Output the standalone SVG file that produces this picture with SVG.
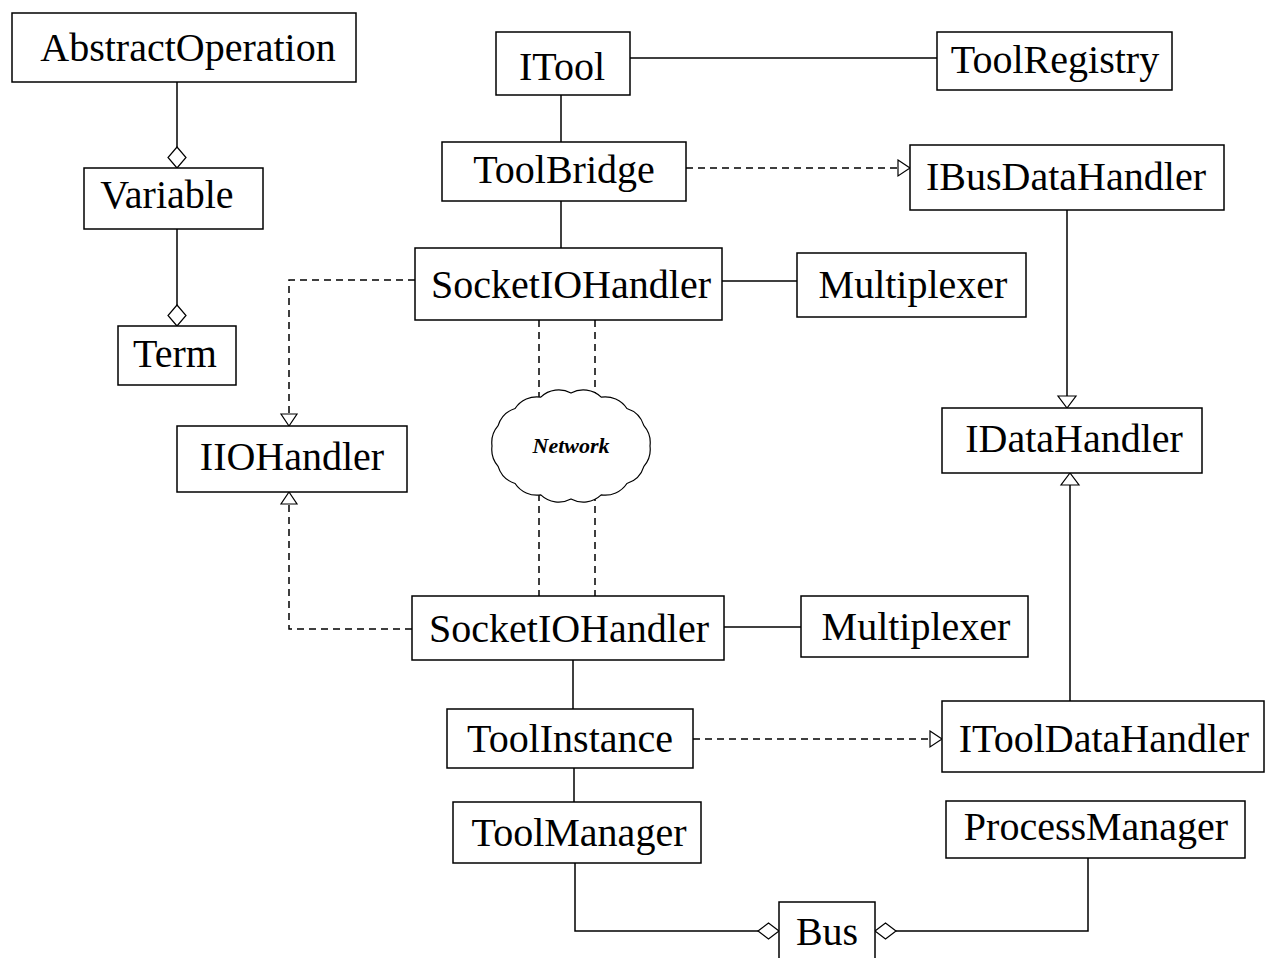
<svg xmlns="http://www.w3.org/2000/svg" width="1266" height="958" viewBox="0 0 1266 958">
<style>
.box{fill:#fff;stroke:#000;stroke-width:1.5}
.lbl{font-family:"Liberation Serif","Times New Roman",serif;font-size:40px;fill:#000;text-anchor:middle}
.ln{fill:none;stroke:#000;stroke-width:1.5}
.dash{fill:none;stroke:#000;stroke-width:1.5;stroke-dasharray:7 5}
.tri{fill:#fff;stroke:#000;stroke-width:1.2}
</style>
<rect width="1266" height="958" fill="#fff"/>
<g id="connectors">
  <line class="ln" x1="177" y1="82" x2="177" y2="147"/>
  <polygon class="tri" points="177,147 186,157.5 177,168 168,157.5"/>
  <line class="ln" x1="177" y1="229" x2="177" y2="305"/>
  <polygon class="tri" points="177,305 186,315.5 177,326 168,315.5"/>
  <line class="ln" x1="630" y1="58" x2="937" y2="58"/>
  <line class="ln" x1="561" y1="95" x2="561" y2="142"/>
  <line class="ln" x1="561" y1="201" x2="561" y2="248"/>
  <line class="dash" x1="686" y1="168" x2="898" y2="168"/>
  <polygon class="tri" points="898,160 910,168 898,176"/>
  <line class="ln" x1="722" y1="281" x2="797" y2="281"/>
  <polyline class="dash" points="415,280 289,280 289,414"/>
  <polygon class="tri" points="281,414 297,414 289,426"/>
  <polyline class="dash" points="412,629 289,629 289,504"/>
  <polygon class="tri" points="281,504 297,504 289,492"/>
  <line class="ln" x1="1067" y1="210" x2="1067" y2="396"/>
  <polygon class="tri" points="1058,396 1076,396 1067,408"/>
  <line class="ln" x1="1070" y1="701" x2="1070" y2="485"/>
  <polygon class="tri" points="1061,485 1079,485 1070,473"/>
  <line class="dash" x1="539" y1="320" x2="539" y2="398"/>
  <line class="dash" x1="595" y1="320" x2="595" y2="398"/>
  <line class="dash" x1="539" y1="494" x2="539" y2="596"/>
  <line class="dash" x1="595" y1="494" x2="595" y2="596"/>
  <line class="ln" x1="724" y1="627" x2="801" y2="627"/>
  <line class="ln" x1="573" y1="660" x2="573" y2="709"/>
  <line class="dash" x1="693" y1="739" x2="930" y2="739"/>
  <polygon class="tri" points="930,731 942,739 930,747"/>
  <line class="ln" x1="574" y1="768" x2="574" y2="802"/>
  <polyline class="ln" points="575,863 575,931 758,931"/>
  <polygon class="tri" points="758,931 768.5,923 779,931 768.5,939"/>
  <polyline class="ln" points="1088,858 1088,931 896,931"/>
  <polygon class="tri" points="875,931 885.5,923 896,931 885.5,939"/>
</g>
<g id="AbstractOperation"><rect class="box" x="12" y="13" width="344" height="69"/><text class="lbl" x="188" y="61">AbstractOperation</text></g>
<g id="Variable"><rect class="box" x="84" y="168" width="179" height="61"/><text class="lbl" x="167" y="208">Variable</text></g>
<g id="Term"><rect class="box" x="118" y="326" width="118" height="59"/><text class="lbl" x="175" y="367">Term</text></g>
<g id="ITool"><rect class="box" x="496" y="32" width="134" height="63"/><text class="lbl" x="562" y="80">ITool</text></g>
<g id="ToolRegistry"><rect class="box" x="937" y="32" width="235" height="58"/><text class="lbl" x="1055" y="73">ToolRegistry</text></g>
<g id="ToolBridge"><rect class="box" x="442" y="142" width="244" height="59"/><text class="lbl" x="564" y="183">ToolBridge</text></g>
<g id="IBusDataHandler"><rect class="box" x="910" y="145" width="314" height="65"/><text class="lbl" x="1066" y="190">IBusDataHandler</text></g>
<g id="SocketIOHandler1"><rect class="box" x="415" y="248" width="307" height="72"/><text class="lbl" x="571" y="298">SocketIOHandler</text></g>
<g id="Multiplexer1"><rect class="box" x="797" y="253" width="229" height="64"/><text class="lbl" x="913" y="298">Multiplexer</text></g>
<g id="IIOHandler"><rect class="box" x="177" y="426" width="230" height="66"/><text class="lbl" x="292" y="470">IIOHandler</text></g>
<g id="IDataHandler"><rect class="box" x="942" y="408" width="260" height="65"/><text class="lbl" x="1074" y="452">IDataHandler</text></g>
<g id="Network">
  <path fill="#fff" stroke="#000" stroke-width="1.2" d="M650,446 A26,26 0 0 1 643.9,466.3 A26,26 0 0 1 626.9,483.5 A26,26 0 0 1 601.2,494.9 A26,26 0 0 1 571,499 A26,26 0 0 1 540.8,494.9 A26,26 0 0 1 515.1,483.5 A26,26 0 0 1 498.1,466.3 A26,26 0 0 1 492,446 A26,26 0 0 1 498.1,425.7 A26,26 0 0 1 515.1,408.5 A26,26 0 0 1 540.8,397.1 A26,26 0 0 1 571,393 A26,26 0 0 1 601.2,397.1 A26,26 0 0 1 626.9,408.5 A26,26 0 0 1 643.9,425.7 A26,26 0 0 1 650,446 Z"/>
  <text x="571" y="453" font-family="'Liberation Serif','Times New Roman',serif" font-size="22" font-style="italic" font-weight="bold" text-anchor="middle">Network</text>
</g>
<g id="SocketIOHandler2"><rect class="box" x="412" y="596" width="312" height="64"/><text class="lbl" x="569" y="642">SocketIOHandler</text></g>
<g id="Multiplexer2"><rect class="box" x="801" y="596" width="227" height="61"/><text class="lbl" x="916" y="640">Multiplexer</text></g>
<g id="ToolInstance"><rect class="box" x="447" y="709" width="246" height="59"/><text class="lbl" x="570" y="752">ToolInstance</text></g>
<g id="IToolDataHandler"><rect class="box" x="942" y="701" width="322" height="71"/><text class="lbl" x="1104" y="752">IToolDataHandler</text></g>
<g id="ToolManager"><rect class="box" x="453" y="802" width="248" height="61"/><text class="lbl" x="579" y="846">ToolManager</text></g>
<g id="ProcessManager"><rect class="box" x="946" y="801" width="299" height="57"/><text class="lbl" x="1096" y="840">ProcessManager</text></g>
<g id="Bus"><rect class="box" x="779" y="902" width="96" height="60"/><text class="lbl" x="827" y="945">Bus</text></g>
</svg>
